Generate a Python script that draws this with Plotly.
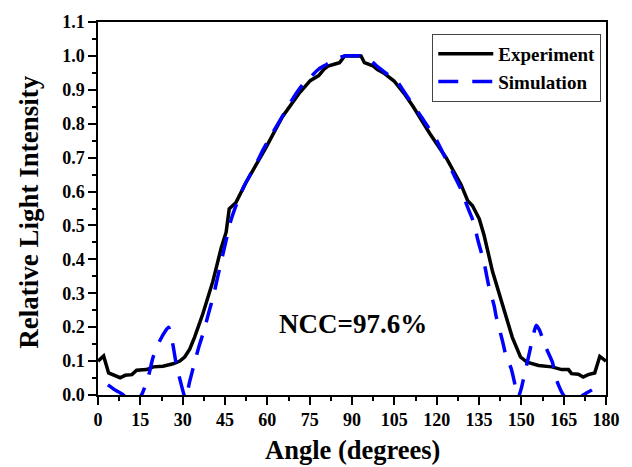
import plotly.graph_objects as go

# ---- data ----
exp_angle = [0, 2, 3.75, 6, 7.85, 9.6, 12, 13.7, 17.2, 19.6, 23, 26.6, 29, 30.7, 32.5,
             34.2, 37.1, 40.7, 43.6, 45.4, 46.5, 48.9, 52.4, 55.9, 59.4, 65.3, 71.1,
             75.2, 78.2, 80.1, 81.5, 84, 85.6, 87.4, 90, 93.2, 94.4, 97.6, 99, 101.2,
             104.9, 108.5, 111.7, 117.5, 123.4, 128.6, 131, 132.7, 135.1, 136.8, 139.8,
             143.3, 146.8, 149.7, 152, 156.1, 160.8, 164.3, 166.7, 167.8, 170.2, 171.9,
             173.7, 176, 177.8, 180]
exp_value = [0.100, 0.115, 0.065, 0.058, 0.051, 0.058, 0.060, 0.073, 0.075, 0.083, 0.085,
             0.092, 0.100, 0.112, 0.135, 0.170, 0.238, 0.335, 0.432, 0.480, 0.549, 0.568,
             0.626, 0.677, 0.728, 0.820, 0.888, 0.927, 0.942, 0.961, 0.970, 0.976, 0.980,
             1.0, 1.0, 1.0, 0.980, 0.970, 0.960, 0.950, 0.926, 0.889, 0.850, 0.772, 0.699,
             0.621, 0.573, 0.558, 0.519, 0.471, 0.364, 0.267, 0.170, 0.112, 0.097, 0.087,
             0.083, 0.075, 0.075, 0.063, 0.061, 0.053, 0.060, 0.065, 0.114, 0.100]

sim_angle = [3.5, 6, 9, 12, 15.4, 17.8, 19.5, 21.9, 24, 25, 26.5, 27.7, 29.1, 30.5, 31,
             32.5, 34.1, 35.7, 37.7, 39.2, 40.7, 43, 45.4, 47.1, 49.1, 51.8, 55.3, 58.8,
             61.8, 65.9, 69.4, 72.5, 75.8, 78.2, 81, 84, 87.4, 90, 93.2, 96, 99.4, 102.5,
             105.8, 108, 110.5, 114.6, 117, 119.3, 122.2, 125.7, 128.6, 131, 133.3, 134.5,
             136.8, 138.5, 140.4, 141, 143.3, 144.4, 146.4, 147.5, 148.8, 150, 150.9,
             152.4, 153.8, 155.3, 156.5, 158.4, 161, 162.5, 164.9, 168, 171.9, 175, 178.1]
sim_value = [0.030, 0.015, 0.0, -0.03, 0.0, 0.053, 0.111, 0.160, 0.190, 0.200, 0.150,
             0.092, 0.044, 0.0, -0.01, 0.04, 0.092, 0.141, 0.194, 0.242, 0.286, 0.370,
             0.456, 0.515, 0.563, 0.617, 0.670, 0.728, 0.772, 0.830, 0.879, 0.915, 0.942,
             0.961, 0.975, 0.990, 1.0, 1.0, 1.0, 0.990, 0.966, 0.946, 0.927, 0.900, 0.869,
             0.820, 0.790, 0.762, 0.714, 0.656, 0.607, 0.553, 0.505, 0.460, 0.390, 0.320,
             0.262, 0.235, 0.160, 0.121, 0.078, 0.040, -0.01, 0.020, 0.053, 0.107, 0.160,
             0.206, 0.190, 0.146, 0.097, 0.044, 0.0, -0.03, 0.0, 0.015, 0.034]

x_ticks = [0, 15, 30, 45, 60, 75, 90, 105, 120, 135, 150, 165, 180]
y_ticks = [0.0, 0.1, 0.2, 0.3, 0.4, 0.5, 0.6, 0.7, 0.8, 0.9, 1.0, 1.1]
y_ticklabels = ["0.0", "0.1", "0.2", "0.3", "0.4", "0.5", "0.6", "0.7", "0.8", "0.9", "1.0", "1.1"]

FONT = "Liberation Serif"

fig = go.Figure()
fig.add_trace(go.Scatter(x=exp_angle, y=exp_value, mode="lines", name="<b>Experiment</b>",
                         line=dict(color="#000000", width=3.5)))
fig.add_trace(go.Scatter(x=sim_angle, y=sim_value, mode="lines", name="<b>Simulation</b>",
                         line=dict(color="#0000FF", width=3.5, dash="20px,14px", shape="spline",
                                   smoothing=0.6)))

axis_common = dict(showline=True, linecolor="black", linewidth=1.5, mirror=True,
                   ticks="outside", ticklen=8, tickwidth=1.5, tickcolor="black",
                   showgrid=False, zeroline=False,
                   tickfont=dict(family=FONT, size=18, color="black"))

fig.update_xaxes(range=[0, 180], tickvals=x_ticks, ticktext=[f"<b>{t}</b>" for t in x_ticks],
                 minor=dict(dtick=7.5, tick0=0, ticks="outside", ticklen=4, tickwidth=1.5,
                            tickcolor="black"),
                 **axis_common)
fig.update_yaxes(range=[0, 1.1], tickvals=y_ticks, ticktext=[f"<b>{t}</b>" for t in y_ticklabels],
                 minor=dict(dtick=0.05, tick0=0, ticks="outside", ticklen=4, tickwidth=1.5,
                            tickcolor="black"),
                 **axis_common)

fig.update_layout(
    width=632, height=467,
    margin=dict(l=98, r=21, t=17, b=72),
    plot_bgcolor="white", paper_bgcolor="white",
    font=dict(family=FONT, color="black"),
    showlegend=True,
    legend=dict(x=0.658, y=0.968, xanchor="left", yanchor="top",
                bordercolor="#444444", borderwidth=1, bgcolor="white",
                font=dict(family=FONT, size=19, color="black"),
                itemwidth=55, tracegroupgap=0),
    annotations=[
        dict(text="<b>NCC=97.6%</b>", x=90.3, y=0.21, xref="x", yref="y",
             showarrow=False, font=dict(family=FONT, size=27, color="black"),
             xanchor="center", yanchor="middle"),
        dict(text="<b>Angle (degrees)</b>", x=0.5, y=0, xref="paper", yref="paper",
             yshift=-55, showarrow=False, font=dict(family=FONT, size=26.5, color="black"),
             xanchor="center", yanchor="middle"),
        dict(text="<b>Relative Light Intensity</b>", x=-0.1365, y=0.4907, xref="paper",
             yref="paper", textangle=-90, showarrow=False,
             font=dict(family=FONT, size=27, color="black"),
             xanchor="center", yanchor="middle"),
    ],
)

fig.write_html("out.html", config={"displayModeBar": False},
               post_script="document.body.style.margin='0';document.body.style.overflow='hidden';")
